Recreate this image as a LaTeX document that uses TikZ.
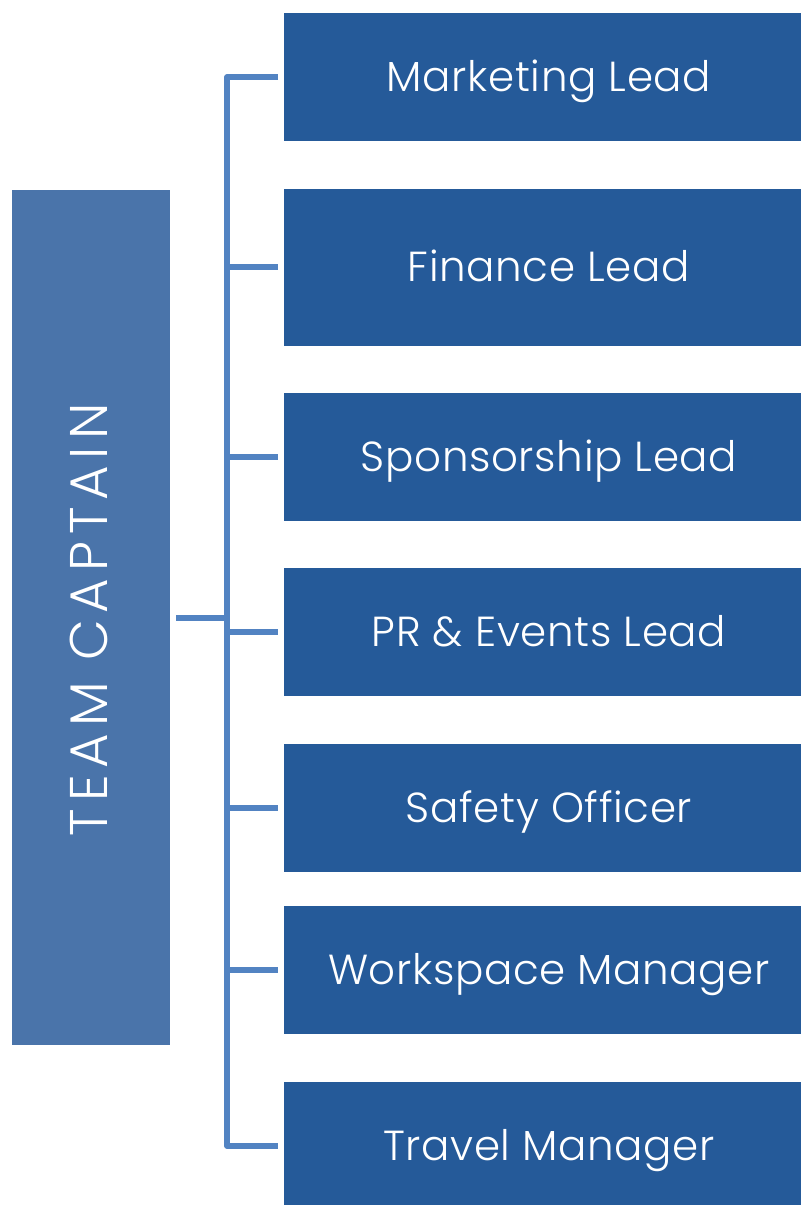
\documentclass[tikz,border=0pt]{standalone}
\usepackage{fontspec}
\setmainfont{Poppins}[UprightFont=* Light]
\newfontfamily\roleface{Poppins}[UprightFont=* Light,LetterSpace=1.5]
\newfontfamily\captface{Poppins}[UprightFont=* Light,LetterSpace=13]
\definecolor{rolefill}{HTML}{255A99}
\definecolor{captfill}{HTML}{4A74AA}
\definecolor{linkcol}{HTML}{5283C2}
\begin{document}
\begin{tikzpicture}[x=1pt,y=-1pt,
  rolebox/.style={fill=rolefill,draw=none},
  rolelabel/.style={text=white,anchor=base,font=\roleface\fontsize{42}{46}\selectfont,inner sep=0pt},
  link/.style={draw=linkcol,line width=5.5pt,line join=round}]
\useasboundingbox (0,0) rectangle (801,1205);
% head of the team
\fill[captfill] (12,190) rectangle (170,1045);
\node[text=white,anchor=base,rotate=90,inner sep=0pt,font=\captface\fontsize{53}{58}\selectfont] (capt) at (107,620) {TEAM CAPTAIN};
\coordinate (captR) at (176,618);
% role boxes
\fill[rolebox] (284,13) rectangle (801,141);
\fill[rolebox] (284,189) rectangle (801,346);
\fill[rolebox] (284,393) rectangle (801,521);
\fill[rolebox] (284,568) rectangle (801,696);
\fill[rolebox] (284,744) rectangle (801,872);
\fill[rolebox] (284,906) rectangle (801,1034);
\fill[rolebox] (284,1082) rectangle (801,1205);
\node[rolelabel] (r1) at (549,91) {Marketing Lead};
\node[rolelabel] (r2) at (549,281) {Finance Lead};
\node[rolelabel] (r3) at (549,471) {Sponsorship Lead};
\node[rolelabel] (r4) at (549,646) {PR \& Events Lead};
\node[rolelabel] (r5) at (549,822) {Safety Officer};
\node[rolelabel] (r6) at (549,984) {Workspace Manager};
\node[rolelabel] (r7) at (549,1160) {Travel Manager};
% tick ends at the role boxes
\foreach \i/\y in {1/77,2/267,3/457,4/632,5/808,6/970,7/1146}{
  \coordinate (t\i) at (278,\y);
}
% connector tree
\draw[link] (t1) -- (227,77) -- (227,1146) -- (t7);
\foreach \i in {2,...,6}{\draw[link] (227,0 |- t\i) -- (t\i);}
\draw[link] (captR) -- (227,618);
\end{tikzpicture}
\end{document}
